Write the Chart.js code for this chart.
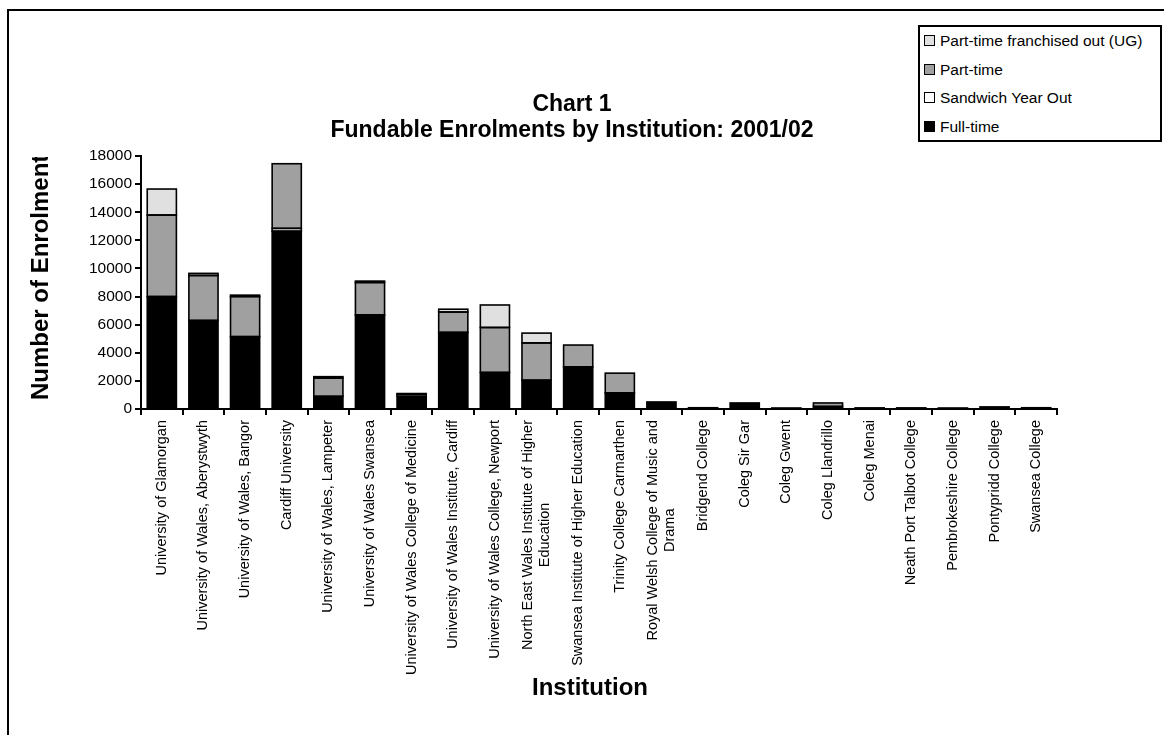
<!DOCTYPE html>
<html>
<head>
<meta charset="utf-8">
<script src="https://cdn.jsdelivr.net/npm/chart.js@4/dist/chart.umd.min.js"></script>
<style>
  body { margin: 0; background: #fff; font-family: Arial, "Liberation Sans", sans-serif; }
  #wrap { position: relative; width: 1164px; height: 735px; overflow: hidden; }
  #frame { position: absolute; left: 7px; top: 9px; right: -10px; bottom: -10px; border-top: 2px solid #000; border-left: 2px solid #000; }
  #legend { position: absolute; left: 918px; top: 25px; width: 240px; height: 113px; border: 2px solid #000; background: #fff; }
  .item { position: absolute; left: 4px; font-size: 15.5px; color: #000; white-space: nowrap; line-height: 18px; }
  .box { display: inline-block; width: 9px; height: 9px; border: 1px solid #000; margin-right: 5px; vertical-align: 0px; }
</style>
</head>
<body>
<div id="wrap">
  <canvas id="enrolChart" width="1164" height="735"></canvas>
  <div id="frame"></div>
  <div id="legend"></div>
</div>
<script>
const institutions = [
  'University of Glamorgan',
  'University of Wales, Aberystwyth',
  'University of Wales, Bangor',
  'Cardiff University',
  'University of Wales, Lampeter',
  'University of Wales Swansea',
  'University of Wales College of Medicine',
  'University of Wales Institute, Cardiff',
  'University of Wales College, Newport',
  ['North East Wales Institute of Higher', 'Education'],
  'Swansea Institute of Higher Education',
  'Trinity College Carmarthen',
  ['Royal Welsh College of Music and', 'Drama'],
  'Bridgend College',
  'Coleg Sir Gar',
  'Coleg Gwent',
  'Coleg Llandrillo',
  'Coleg Menai',
  'Neath Port Talbot College',
  'Pembrokeshire College',
  'Pontypridd College',
  'Swansea College'
];

const fullTime   = [8000, 6300, 5150, 12650, 900, 6700, 900, 5450, 2600, 2050, 3000, 1150, 500, 90, 430, 70, 180, 80, 80, 20, 150, 90];
const sandwich   = [0, 0, 0, 200, 0, 0, 0, 0, 0, 0, 0, 0, 0, 0, 0, 0, 0, 0, 0, 0, 0, 0];
const partTime   = [5800, 3200, 2850, 4600, 1300, 2300, 150, 1450, 3200, 2650, 1550, 1400, 0, 0, 0, 0, 250, 0, 0, 0, 0, 0];
const franchised = [1850, 150, 100, 0, 100, 100, 50, 200, 1600, 700, 0, 0, 0, 0, 0, 0, 0, 0, 0, 0, 0, 0];

const yTicks = [0, 2000, 4000, 6000, 8000, 10000, 12000, 14000, 16000, 18000];

const FONT = 'Arial, "Liberation Sans", sans-serif';

// black outline round every stacked segment, stroked over the fills so no seams show
const outlinePlugin = {
  id: 'outlines',
  afterDatasetsDraw(chart) {
    const ctx = chart.ctx;
    ctx.save();
    ctx.strokeStyle = '#000';
    ctx.lineWidth = 1.6;
    chart.data.datasets.forEach((ds, d) => {
      chart.getDatasetMeta(d).data.forEach((bar, i) => {
        if (!ds.data[i]) return;
        const p = bar.getProps(['x', 'y', 'base', 'width'], true);
        ctx.strokeRect(p.x - p.width / 2, p.y, p.width, p.base - p.y);
      });
    });
    ctx.restore();
  }
};

// titles, rotated category labels (centred lines) and axis titles
const textPlugin = {
  id: 'texts',
  afterDraw(chart) {
    const { ctx, chartArea, scales: { x } } = chart;
    ctx.save();
    ctx.fillStyle = '#000';

    ctx.font = 'bold 23px ' + FONT;
    ctx.textAlign = 'center';
    ctx.textBaseline = 'middle';
    ctx.fillText('Chart 1', 572, 105);
    ctx.fillText('Fundable Enrolments by Institution: 2001/02', 572, 131);

    ctx.font = 'bold 24px ' + FONT;
    ctx.fillText('Institution', 590, 688);

    // y title, cut off at the top of the plot like the original
    ctx.save();
    ctx.beginPath();
    ctx.rect(0, chartArea.top + 1, 140, chartArea.bottom);
    ctx.clip();
    ctx.translate(41, chartArea.bottom - 9);
    ctx.rotate(-Math.PI / 2);
    ctx.textAlign = 'left';
    ctx.fillText('Number of Enrolments', 0, 0);
    ctx.restore();

    ctx.font = '14.5px ' + FONT;
    const lineH = 17;
    institutions.forEach((cat, i) => {
      const lines = Array.isArray(cat) ? cat : [cat];
      const maxW = Math.max(...lines.map(l => ctx.measureText(l).width));
      ctx.save();
      ctx.translate(x.getPixelForValue(i), x.top + 11);
      ctx.rotate(-Math.PI / 2);
      ctx.textAlign = 'center';
      lines.forEach((l, j) => {
        ctx.fillText(l, -maxW / 2, (j - (lines.length - 1) / 2) * lineH);
      });
      ctx.restore();
    });
    ctx.restore();
  }
};

const ctx = document.getElementById('enrolChart');

const chart = new Chart(ctx, {
  type: 'bar',
  data: {
    labels: institutions,
    datasets: [
      { label: 'Full-time', data: fullTime, backgroundColor: '#000000' },
      { label: 'Sandwich Year Out', data: sandwich, backgroundColor: '#ffffff' },
      { label: 'Part-time', data: partTime, backgroundColor: '#a0a0a0' },
      { label: 'Part-time franchised out (UG)', data: franchised, backgroundColor: '#e0e0e0' }
    ]
  },
  options: {
    responsive: false,
    animation: false,
    devicePixelRatio: 1,
    layout: { padding: { left: 0, top: 156, right: 107, bottom: 0 } },
    datasets: {
      bar: {
        borderWidth: 0,
        barPercentage: 0.7,
        categoryPercentage: 1
      }
    },
    plugins: {
      legend: { display: false },
      title: { display: false },
      tooltip: { enabled: false }
    },
    scales: {
      x: {
        stacked: true,
        afterFit: (s) => { s.height = 735 - 409; },
        grid: { drawOnChartArea: false, offset: true, color: '#000', lineWidth: 2, tickLength: 6 },
        border: { color: '#000', width: 2 },
        ticks: { display: false }
      },
      y: {
        stacked: true,
        min: yTicks[0],
        max: yTicks[yTicks.length - 1],
        afterFit: (s) => { s.width = 141; },
        afterBuildTicks: (s) => { s.ticks = yTicks.map(v => ({ value: v })); },
        grid: { drawOnChartArea: false, color: '#000', lineWidth: 2, tickLength: 6 },
        border: { color: '#000', width: 2 },
        ticks: { color: '#000', font: { family: FONT, size: 15.5 }, padding: 3, callback: (v) => String(v) }
      }
    }
  },
  plugins: [outlinePlugin, textPlugin]
});

// legend box, top entry is the top of the stack
const legendEl = document.getElementById('legend');
chart.data.datasets.slice().reverse().forEach((ds, i) => {
  const row = document.createElement('div');
  row.className = 'item';
  row.style.top = (5 + i * 28.5) + 'px';
  row.innerHTML = '<span class="box" style="background:' + ds.backgroundColor + '"></span>' + ds.label;
  legendEl.appendChild(row);
});
</script>
</body>
</html>
